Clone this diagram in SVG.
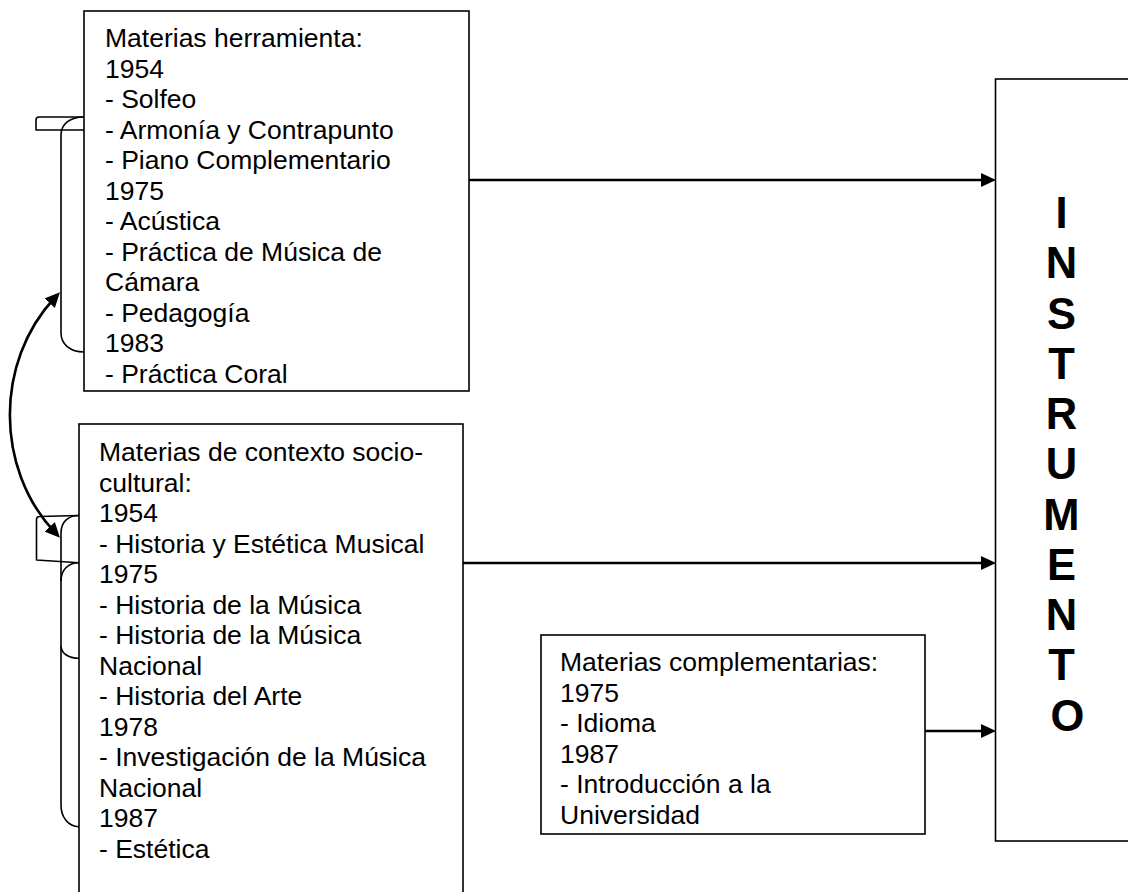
<svg xmlns="http://www.w3.org/2000/svg" width="1128" height="892" viewBox="0 0 1128 892">
<style>
.box{fill:#fff;stroke:#000;stroke-width:1.6}
.t{font-family:"Liberation Sans",Arial,sans-serif;font-size:26.5px;fill:#000}
.big{font-family:"Liberation Sans",Arial,sans-serif;font-size:43.5px;font-weight:bold;fill:#000;text-anchor:middle}
.br{fill:none;stroke:#000;stroke-width:1.6;stroke-linejoin:round}
.arr{fill:none;stroke:#000;stroke-width:2.6}
</style>
<defs>
<marker id="ah" viewBox="0 0 15 14" refX="7" refY="7" markerWidth="15" markerHeight="14" markerUnits="userSpaceOnUse" orient="auto-start-reverse">
<path d="M0,0 L15,7 L0,14 Z" fill="#000"/>
</marker>
</defs>
<rect width="1128" height="892" fill="#fff"/>

<g id="herramienta">
<rect class="box" x="84" y="11" width="385" height="380"/>
<text class="t">
<tspan x="105" y="47">Materias herramienta:</tspan>
<tspan x="105" y="77.5">1954</tspan>
<tspan x="105" y="108">- Solfeo</tspan>
<tspan x="105" y="138.5">- Armonía y Contrapunto</tspan>
<tspan x="105" y="169">- Piano Complementario</tspan>
<tspan x="105" y="199.5">1975</tspan>
<tspan x="105" y="230">- Acústica</tspan>
<tspan x="105" y="260.5">- Práctica de Música de</tspan>
<tspan x="105" y="291">Cámara</tspan>
<tspan x="105" y="321.5">- Pedagogía</tspan>
<tspan x="105" y="352">1983</tspan>
<tspan x="105" y="382.5">- Práctica Coral</tspan>
</text>
</g>

<g id="contexto">
<rect class="box" x="79" y="424" width="384" height="490"/>
<text class="t">
<tspan x="99" y="461">Materias de contexto socio-</tspan>
<tspan x="99" y="491.5">cultural:</tspan>
<tspan x="99" y="522">1954</tspan>
<tspan x="99" y="552.5">- Historia y Estética Musical</tspan>
<tspan x="99" y="583">1975</tspan>
<tspan x="99" y="613.5">- Historia de la Música</tspan>
<tspan x="99" y="644">- Historia de la Música</tspan>
<tspan x="99" y="674.5">Nacional</tspan>
<tspan x="99" y="705">- Historia del Arte</tspan>
<tspan x="99" y="735.5">1978</tspan>
<tspan x="99" y="766">- Investigación de la Música</tspan>
<tspan x="99" y="796.5">Nacional</tspan>
<tspan x="99" y="827">1987</tspan>
<tspan x="99" y="857.5">- Estética</tspan>
</text>
</g>

<g id="complementarias">
<rect class="box" x="541" y="635" width="384" height="199"/>
<text class="t">
<tspan x="560" y="671">Materias complementarias:</tspan>
<tspan x="560" y="701.5">1975</tspan>
<tspan x="560" y="732">- Idioma</tspan>
<tspan x="560" y="762.5">1987</tspan>
<tspan x="560" y="793">- Introducción a la</tspan>
<tspan x="560" y="823.5">Universidad</tspan>
</text>
</g>

<g id="instrumento">
<rect class="box" x="995.5" y="79" width="200" height="762"/>
<text class="big">
<tspan x="1067.5" y="228">I</tspan>
<tspan x="1067.5" y="278.25">N</tspan>
<tspan x="1067.5" y="328.5">S</tspan>
<tspan x="1067.5" y="378.75">T</tspan>
<tspan x="1067.5" y="429">R</tspan>
<tspan x="1067.5" y="479.25">U</tspan>
<tspan x="1067.5" y="529.5">M</tspan>
<tspan x="1067.5" y="579.75">E</tspan>
<tspan x="1067.5" y="630">N</tspan>
<tspan x="1067.5" y="680.25">T</tspan>
<tspan x="1067.5" y="730.5">O</tspan>
</text>
</g>

<g id="brackets">
<path class="br" d="M84,117 L39,117 Q36,117 36,120 L36,130 L84,130"/>
<path class="br" d="M84,117 C70,117 61,124 61,135 L61,333 C61,344 70,352 84,352"/>
<path class="br" d="M79,515.5 L39.5,516.5 Q36.5,516.5 36.5,519.5 L36.5,560 L79,562.7"/>
<path class="br" d="M79,515.5 C68,515.5 61,522 61,533 L61,805 C61,817 68,826.7 79,826.7"/>
<path class="br" d="M79,562.7 C68,562.7 61,570 61,581"/>
<path class="br" d="M61,646 C61,653 68,658.3 79,658.3"/>
</g>

<g id="connectors">
<path class="arr" d="M469,180 L988,180" marker-end="url(#ah)"/>
<path class="arr" d="M463,563 L988,563" marker-end="url(#ah)"/>
<path class="arr" d="M925,731 L988,731" marker-end="url(#ah)"/>
<path class="arr" d="M54.5,298 C-5,362 -5,468 54.5,532" marker-start="url(#ah)" marker-end="url(#ah)"/>
</g>
</svg>
